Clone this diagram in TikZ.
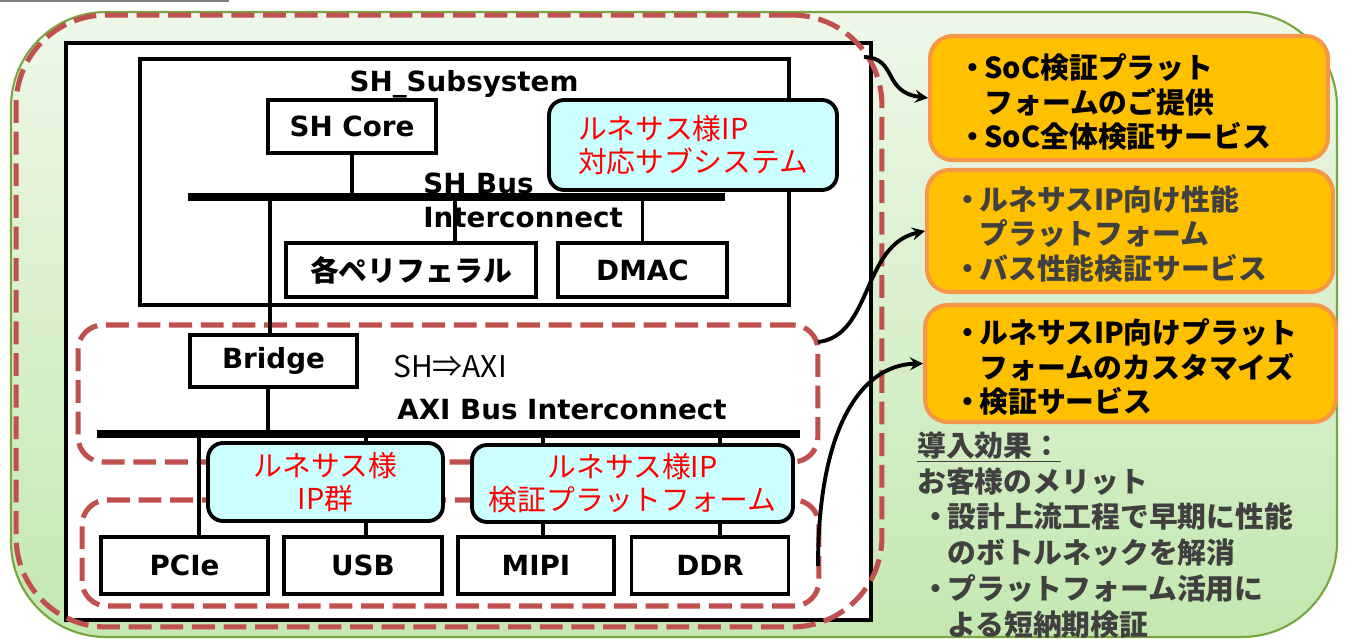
\documentclass[tikz,border=0pt]{standalone}
\usepackage{fontspec}
\setmainfont{DejaVu Sans}
\newfontfamily\jp{Noto Sans CJK JP}
\usetikzlibrary{positioning}
\definecolor{redash}{RGB}{192,80,77}
\definecolor{cyanbox}{RGB}{204,255,255}
\definecolor{orfill}{RGB}{255,192,0}
\definecolor{ordraw}{RGB}{247,150,70}
\definecolor{grtop}{RGB}{238,247,233}
\definecolor{grbot}{RGB}{196,232,176}
\definecolor{grline}{RGB}{119,166,64}
\definecolor{txgray}{RGB}{64,64,64}
\newcommand\dotb{\makebox[0.8em][c]{・}}
\begin{document}
\begin{tikzpicture}[x=0.02cm,y=-0.02cm,>=stealth,
	blk/.style={draw,line width=2.2pt,fill=white,inner sep=0pt,font=\fontsize{15.8}{18}\selectfont\bfseries},
	jpblk/.style={blk,font=\jp\bfseries\fontsize{16.4}{19.8}\selectfont},
	cy/.style={draw,line width=2.2pt,fill=cyanbox,rounded corners=0.3cm,inner sep=0pt,text=red,font=\jp\fontsize{16.4}{18.7}\selectfont},
	reg/.style={draw=redash,line width=2.9pt,dash pattern=on 13pt off 5pt,rounded corners=0.5cm,inner sep=0pt},
	bus/.style={line width=4.5pt},
	tap/.style={line width=2.2pt},
	lbl/.style={inner sep=0pt,font=\fontsize{15.8}{19.3}\selectfont\bfseries},
	obox/.style={draw=ordraw,line width=2.3pt,fill=orfill,rounded corners=0.45cm,inner sep=0pt},
	otxt/.style={anchor=west,align=left,inner sep=0pt,font=\jp\bfseries\fontsize{16.4}{19.8}\selectfont},
	arr/.style={->,line width=2.2pt}]
	\useasboundingbox (0,0) rectangle (1346,639);
	\shade[top color=grtop,bottom color=grbot,rounded corners=1.9cm] (11,12) rectangle (1337,637);
	\draw[grline,line width=1.2pt,rounded corners=1.9cm] (11,12) rectangle (1337,637);
	\draw[gray,line width=0.8pt] (0,1) -- (229,1);
	\node[draw,line width=2.2pt,fill=white,inner sep=0pt,minimum width=16.1cm,minimum height=11.54cm] (chip) at (468.5,331.5) {};
	\node[reg,rounded corners=1.8cm,minimum width=17.32cm,minimum height=12.24cm] (bigreg) at (449,321) {};
	\node[draw,line width=2.2pt,fill=white,inner sep=0pt,minimum width=12.98cm,minimum height=4.92cm] (shsub) at (464.5,182) {};
	\node[reg,minimum width=14.8cm,minimum height=2.74cm] (axireg) at (448,393.5) {};
	\node[reg,minimum width=14.74cm,minimum height=2.12cm] (lowreg) at (450.5,553) {};
	% SH side
	\node[blk,minimum width=3.36cm,minimum height=1.06cm] (shcore) at (352,126.5) {SH Core};
	\node[jpblk,minimum width=5cm,minimum height=1.08cm] (perip) at (411,270) {各ペリフェラル};
	\node[blk,minimum width=3.38cm,minimum height=1.08cm] (dmac) at (642.5,270) {DMAC};
	\node[blk,minimum width=3.34cm,minimum height=1.04cm] (bridge) at (273.5,361) {Bridge};
	% AXI side
	\node[blk,minimum width=3.34cm,minimum height=1.14cm] (pcie) at (184.5,565.5) {PCIe};
	\node[blk,minimum width=3.16cm,minimum height=1.14cm] (usb) at (363,565.5) {USB};
	\node[blk,minimum width=3.12cm,minimum height=1.14cm] (mipi) at (536,565.5) {MIPI};
	\node[blk,minimum width=3.14cm,minimum height=1.14cm] (ddr) at (710,565.5) {DDR};
	\coordinate (shL) at (188,197);
	\coordinate (shR) at (725,197);
	\coordinate (t1) at (270,197);
	\coordinate (t2) at (455,197);
	\draw[bus] (shL) -- (shR);
	\draw[tap] (shcore.south) -- (shcore.south |- shL);
	\draw[tap] (t1) -- (t1 |- bridge.north);
	\draw[tap] (t2) -- (t2 |- perip.north);
	\draw[tap] (dmac.north) -- (dmac.north |- shL);
	\coordinate (axL) at (97,434);
	\coordinate (axR) at (800,434);
	\coordinate (t3) at (268,434);
	\coordinate (t4) at (199,434);
	\coordinate (t5) at (366,434);
	\coordinate (t6) at (543,434);
	\coordinate (t7) at (720,434);
	\draw[bus] (axL) -- (axR);
	\draw[tap] (t3) -- (t3 |- bridge.south);
	\draw[tap] (t4) -- (t4 |- pcie.north);
	\draw[tap] (t5) -- (t5 |- usb.north);
	\draw[tap] (t6) -- (t6 |- mipi.north);
	\draw[tap] (t7) -- (t7 |- ddr.north);
	\node[cy,align=left,minimum width=5.76cm,minimum height=1.8cm] (ipsub) at (693,145) {ルネサス様IP\\対応サブシステム};
	\node[cy,align=center,minimum width=4.7cm,minimum height=1.56cm] (ipgrp) at (325.5,482) {ルネサス様\\IP群};
	\node[cy,align=center,minimum width=6.42cm,minimum height=1.54cm] (ipver) at (632.5,483.5) {ルネサス様IP\\検証プラットフォーム};
	\node[lbl] (shtitle) at (464,84) {SH\_Subsystem};
	\node[lbl,anchor=west,align=left] (shbus) at (423,200) {SH Bus\\Interconnect};
	\node[inner sep=0pt,font=\jp\fontsize{17}{19}\selectfont] (conv) at (450,367) {SH⇒AXI};
	\node[lbl] (axibus) at (562,410) {AXI Bus Interconnect};
	% services
	\node[obox,minimum width=7.96cm,minimum height=2.48cm] (svc1) at (1129,98) {};
	\node[obox,minimum width=8.12cm,minimum height=2.44cm] (svc2) at (1130,231) {};
	\node[obox,minimum width=8.22cm,minimum height=2.34cm] (svc3) at (1130.5,363.5) {};
	\node[otxt] (svc1txt) at (961,102) {\dotb SoC検証プラット\\\phantom{\dotb}フォームのご提供\\\dotb SoC全体検証サービス};
	\node[otxt,text=txgray] (svc2txt) at (956,234) {\dotb ルネサスIP向け性能\\\phantom{\dotb}プラットフォーム\\\dotb バス性能検証サービス};
	\node[otxt] (svc3txt) at (956,367) {\dotb ルネサスIP向けプラット\\\phantom{\dotb}フォームのカスタマイズ\\\dotb 検証サービス};
	\node[otxt,text=txgray,font=\jp\bfseries\fontsize{16.4}{20.4}\selectfont] (merit) at (917,535) {\underline{導入効果：}\\お客様のメリット\\\hspace*{4pt}\dotb 設計上流工程で早期に性能\\\hspace*{4pt}\phantom{\dotb}のボトルネックを解消\\\hspace*{4pt}\dotb プラットフォーム活用に\\\hspace*{4pt}\phantom{\dotb}よる短納期検証};
	\coordinate (a1) at (864,57);
	\coordinate (a2) at (818,342);
	\coordinate (a3) at (818,566);
	\draw[arr] (a1) .. controls (898,58) and (882,92) .. (svc1.west);
	\draw[arr] (a2) .. controls (872,336) and (862,245) .. (svc2.west);
	\draw[arr] (a3) .. controls (818,430) and (860,365) .. (svc3.west);
\end{tikzpicture}
\end{document}
